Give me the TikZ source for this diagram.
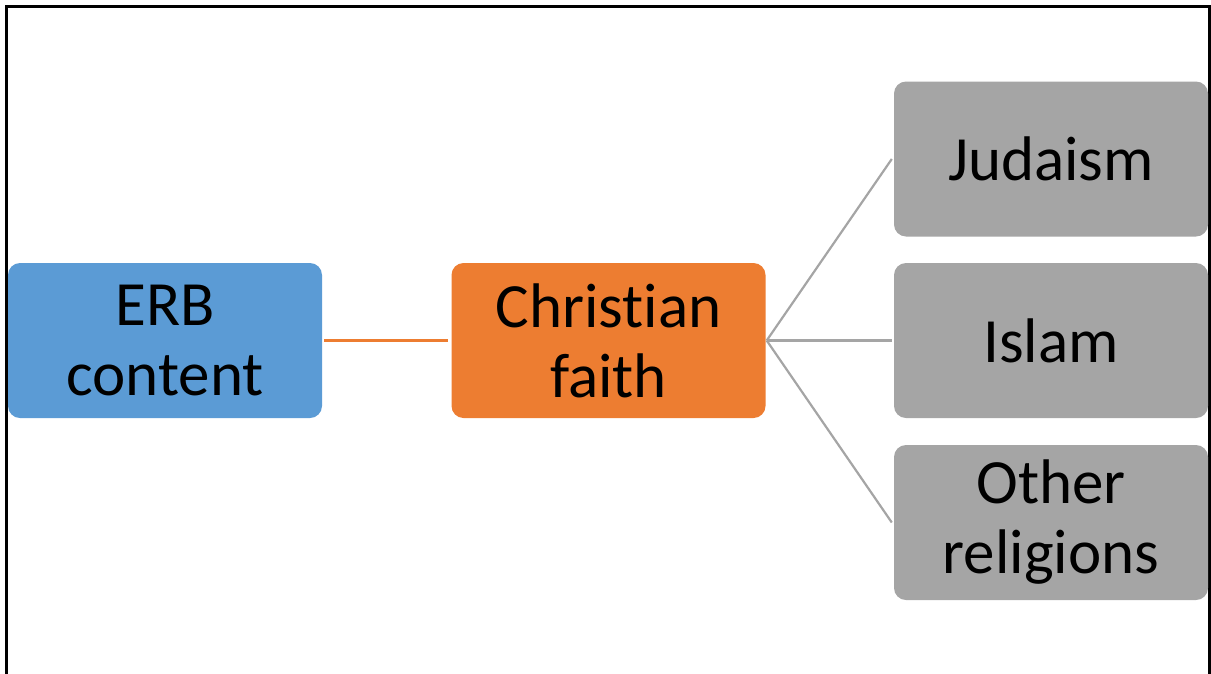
\documentclass[tikz,border=0pt]{standalone}
\usepackage{fontspec}
\setmainfont{Carlito}[Ligatures={NoCommon}]
\definecolor{erbblue}{HTML}{5B9BD5}
\definecolor{faithorange}{HTML}{ED7D31}
\definecolor{relgray}{HTML}{A5A5A5}
\begin{document}
\begin{tikzpicture}[x=1pt,y=-1pt,
  box/.style={rounded corners=12pt, minimum width=314pt, minimum height=155pt,
    inner sep=0pt, align=center, text width=300pt,
    font=\fontsize{63}{70}\selectfont},
  conn/.style={line width=2.2pt}]
\useasboundingbox (0,0) rectangle (1211,673);
\draw[line width=2.5pt] (6.5,690) -- (6.5,6.5) -- (1209.5,6.5) -- (1209.5,690);
\node[box, fill=erbblue] (erb) at (165,340.5) {ERB\\content};
\node[box, fill=faithorange] (faith) at (608.5,340.5) {Christian\\faith};
\node[box, fill=relgray] (jud) at (1051,159) {Judaism};
\node[box, fill=relgray] (isl) at (1051,340.5) {Islam};
\node[box, fill=relgray] (oth) at (1051,522.5) {Other\\religions};
\draw[conn, faithorange] ([xshift=2pt]erb.east) -- ([xshift=-3pt]faith.east -| faith.west);
\draw[conn, relgray] ([xshift=1pt]faith.east) -- ([xshift=-2pt]jud.west);
\draw[conn, relgray] ([xshift=1pt]faith.east) -- ([xshift=-2pt]isl.west);
\draw[conn, relgray] ([xshift=1pt]faith.east) -- ([xshift=-2pt]oth.west);
\end{tikzpicture}
\end{document}
